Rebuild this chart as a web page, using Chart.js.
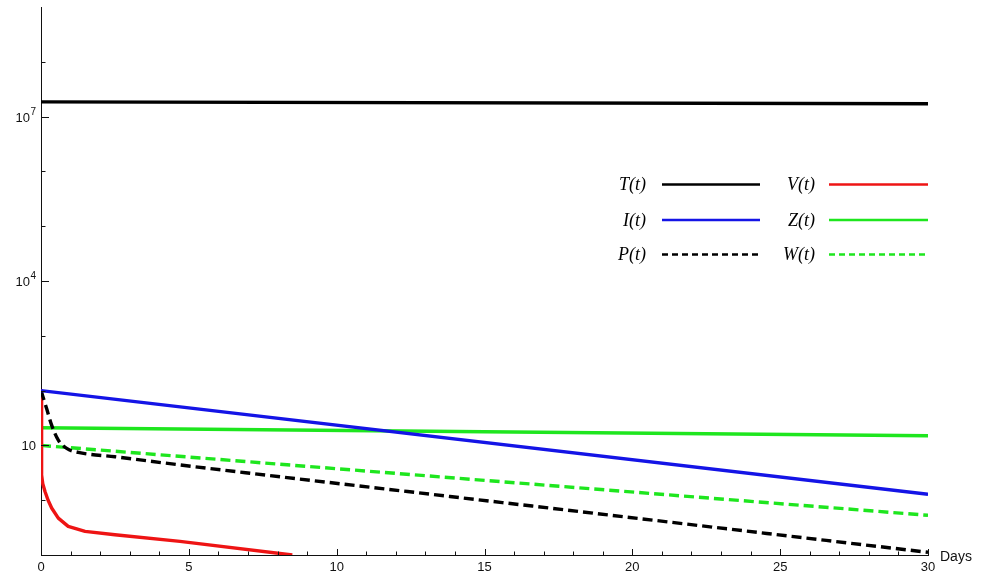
<!DOCTYPE html>
<html>
<head>
<meta charset="utf-8">
<script src="https://cdn.jsdelivr.net/npm/chart.js@4/dist/chart.umd.min.js"></script>
<style>
  html, body { margin: 0; padding: 0; background: #fff; }
  #wrap { width: 985px; height: 577px; position: relative; }
</style>
</head>
<body>
<div id="wrap"><canvas id="c" width="985" height="577"></canvas></div>
<script>
// ---- data (x = days, y = value, log scale) ----
const tDays = [0, 30];
const T_vals = [1.86e7, 1.72e7];

const iDays = [0, 30];
const I_vals = [100, 1.28];

const pDays = [0, 0.19, 0.36, 0.585, 0.87, 1.26, 2.5, 4.7, 7.07, 13.83, 30];
const P_vals = [100, 47, 23.4, 12.5, 8.8, 7.46, 6.2, 4.4, 3.1, 1.17, 0.112];

const vDays = [0, 0.02, 0.06, 0.135, 0.24, 0.36, 0.585, 0.92, 1.49, 2.5, 4.7, 8.5];
const V_vals = [100, 2.9, 2.0, 1.44, 1.0, 0.72, 0.47, 0.333, 0.27, 0.234, 0.177, 0.1];

const zDays = [0, 30];
const Z_vals = [21, 15];

const wDays = [0, 30];
const W_vals = [10, 0.53];

const xTickValues = [0, 5, 10, 15, 20, 25, 30];
const yDecades = [0.1, 1, 10, 100, 1e3, 1e4, 1e5, 1e6, 1e7, 1e8, 1e9];
// labelled decades: base "10" with exponent
const yLabelExp = { 10: '', 10000: '4', 10000000: '7' };

const seriesNames = ['T(t)', 'I(t)', 'P(t)', 'V(t)', 'Z(t)', 'W(t)'];

function pts(xs, ys) { return xs.map((x, i) => ({ x: x, y: ys[i] })); }

const BLACK = '#000000', BLUE = '#1414e6', RED = '#ee1414', GREEN = '#1ee61e';

const datasets = [
  { label: seriesNames[0], data: pts(tDays, T_vals), borderColor: BLACK, borderWidth: 3.4 },
  { label: seriesNames[1], data: pts(iDays, I_vals), borderColor: BLUE, borderWidth: 3.4 },
  { label: seriesNames[2], data: pts(pDays, P_vals), borderColor: BLACK, borderWidth: 3.4, borderDash: [10, 5], cubicInterpolationMode: 'monotone' },
  { label: seriesNames[3], data: pts(vDays, V_vals), borderColor: RED, borderWidth: 3.4, tension: 0 },
  { label: seriesNames[4], data: pts(zDays, Z_vals), borderColor: GREEN, borderWidth: 3.4 },
  { label: seriesNames[5], data: pts(wDays, W_vals), borderColor: GREEN, borderWidth: 3.4, borderDash: [10, 5] }
];
datasets.forEach(d => { d.pointRadius = 0; d.fill = false; d.borderCapStyle = 'butt'; d.borderJoinStyle = 'round'; });

// legend layout (two columns: label then line sample)
const legendRows = [
  { idx: 0, col: 0, row: 0 }, { idx: 3, col: 1, row: 0 },
  { idx: 1, col: 0, row: 1 }, { idx: 4, col: 1, row: 1 },
  { idx: 2, col: 0, row: 2 }, { idx: 5, col: 1, row: 2 }
];

const customPlugin = {
  id: 'custom',
  afterDraw(chart) {
    const ctx = chart.ctx;
    const xs = chart.scales.x, ys = chart.scales.y;
    const ca = chart.chartArea;
    ctx.save();
    ctx.strokeStyle = '#111';
    ctx.lineWidth = 1;
    // inward x ticks
    xs.ticks.forEach(t => {
      const px = Math.round(xs.getPixelForValue(t.value)) + 0.5;
      const len = (t.value % 5 === 0) ? 6 : 3.5;
      ctx.beginPath(); ctx.moveTo(px, ca.bottom); ctx.lineTo(px, ca.bottom - len); ctx.stroke();
    });
    // inward y ticks + labels "10" with superscript exponent
    ys.ticks.forEach(t => {
      if (t.value <= ys.min || t.value >= ys.max) return;
      const py = Math.round(ys.getPixelForValue(t.value)) + 0.5;
      const labelled = Object.prototype.hasOwnProperty.call(yLabelExp, t.value);
      const len = labelled ? 8 : 4.5;
      ctx.beginPath(); ctx.moveTo(ca.left, py); ctx.lineTo(ca.left + len, py); ctx.stroke();
      if (labelled) {
        const exp = yLabelExp[t.value];
        ctx.fillStyle = '#111';
        ctx.textBaseline = 'middle';
        let right = ca.left - 5;
        if (exp) {
          ctx.font = '10px "Liberation Sans", Arial, sans-serif';
          ctx.textAlign = 'right';
          ctx.fillText(exp, right, py - 5);
          right -= ctx.measureText(exp).width + 0.5;
        }
        ctx.font = '13px "Liberation Sans", Arial, sans-serif';
        ctx.textAlign = 'right';
        ctx.fillText('10', right, py + 1);
      }
    });
    // "Days" label
    ctx.fillStyle = '#111';
    ctx.font = '14px "Liberation Sans", Arial, sans-serif';
    ctx.textAlign = 'left'; ctx.textBaseline = 'middle';
    ctx.fillText('Days', ca.right + 12, ca.bottom + 2);

    // legend
    const colText = [646, 815], colLineStart = [662, 829], colLineEnd = [760, 928];
    const rowY = [184.5, 220, 254.5];
    legendRows.forEach(r => {
      const ds = chart.data.datasets[r.idx];
      ctx.font = 'italic 18px "Liberation Serif", "Times New Roman", serif';
      ctx.fillStyle = '#000';
      ctx.textAlign = 'right'; ctx.textBaseline = 'middle';
      ctx.fillText(ds.label, colText[r.col], rowY[r.row] + 1);
      ctx.beginPath();
      ctx.strokeStyle = ds.borderColor;
      ctx.lineWidth = 2.5;
      ctx.setLineDash(ds.borderDash ? [6, 4] : []);
      ctx.moveTo(colLineStart[r.col], rowY[r.row]);
      ctx.lineTo(colLineEnd[r.col], rowY[r.row]);
      ctx.stroke();
      ctx.setLineDash([]);
    });
    ctx.restore();
  }
};

new Chart(document.getElementById('c'), {
  type: 'line',
  data: { datasets: datasets },
  plugins: [customPlugin],
  options: {
    responsive: false,
    animation: false,
    layout: { padding: { left: 0, right: 57, top: 7, bottom: 0 } },
    plugins: { legend: { display: false }, tooltip: { enabled: false } },
    scales: {
      x: {
        type: 'linear', min: 0, max: 30,
        afterFit(scale) { scale.height = 22; },
        ticks: {
          stepSize: 1, autoSkip: false, maxRotation: 0, padding: 5, color: '#111',
          font: { family: '"Liberation Sans", Arial, sans-serif', size: 13 },
          callback: v => (xTickValues.includes(v) ? String(v) : '')
        },
        grid: { drawOnChartArea: false, drawTicks: false },
        border: { display: true, color: '#111', width: 1 }
      },
      y: {
        type: 'logarithmic', min: 0.1, max: 1e9,
        afterFit(scale) { scale.width = 41; },
        afterBuildTicks(scale) { scale.ticks = yDecades.map(v => ({ value: v })); },
        ticks: { display: false },
        grid: { drawOnChartArea: false, drawTicks: false },
        border: { display: true, color: '#111', width: 1 }
      }
    }
  }
});
</script>
</body>
</html>
